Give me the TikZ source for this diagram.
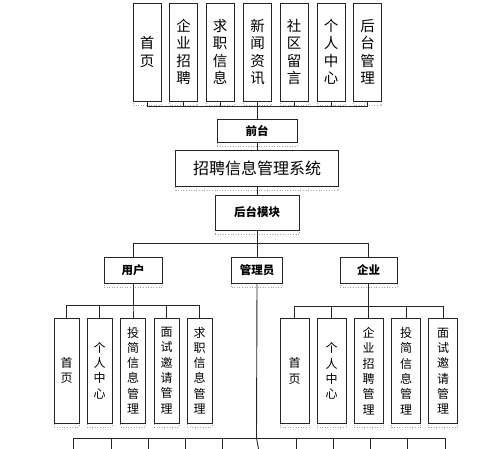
\documentclass[tikz,border=0pt]{standalone}
\usepackage{fontspec}
\newfontfamily\cjk{Noto Sans CJK SC}
\tikzset{
  colbox/.style={draw=black!85, line width=0.9pt, fill=white, align=center, inner sep=0pt,
    preaction={draw=black!35, dotted, line width=0.6pt, transform canvas={yshift=-4pt}}},
  topcol/.style={colbox, minimum width=28, minimum height=98, font=\cjk\fontsize{14.5}{17.5}\selectfont},
  subcol/.style={colbox, minimum height=105, font=\cjk\fontsize{12}{15.3}\selectfont},
  headbox/.style={colbox, minimum height=26, font=\cjk\bfseries\fontsize{11.5}{13}\selectfont},
  link/.style={draw=black!85, line width=0.9pt},
}

\begin{document}
\begin{tikzpicture}[x=1pt, y=-1pt]
			%%%%% START %%%%%
			\useasboundingbox (0,0) rectangle (500,449);
			
			% front end pages
			\foreach \x/\t/\n in {147/{首\\页}/t1, 183.5/{企\\业\\招\\聘}/t2, 220/{求\\职\\信\\息}/t3,
			    257.5/{新\\闻\\资\\讯}/t4, 294/{社\\区\\留\\言}/t5, 331/{个\\人\\中\\心}/t6, 367.5/{后\\台\\管\\理}/t7}
			  \node[topcol] (\n) at (\x, 52) {\t};
			
			\node[headbox, minimum width=80, minimum height=23] (qt) at (257, 130.5) {前台};
			\node[colbox, minimum width=163, minimum height=36, font=\cjk\fontsize{16}{18}\selectfont] (sys) at (257, 168) {招聘信息管理系统};
			\node[headbox, minimum width=84, minimum height=35] (ht) at (257, 212.5) {后台模块};
			
			\foreach \n in {t1,t2,t3,t4,t5,t6,t7}
			  \draw[link] (\n.south) -- ++(0,5) -| (qt.north);
			\draw[link] (qt.south) -- (sys.north);
			\draw[link] (sys.south) -- (ht.north);
			
			% back end roles
			\node[headbox, minimum width=58] (yh) at (133, 270) {用户};
			\node[headbox, minimum width=51] (gl) at (257, 270) {管理员};
			\node[headbox, minimum width=57] (qy) at (368.5, 270) {企业};
			
			\draw[link] (ht.south) -- ++(0,12.5) -| (yh.north);
			\draw[link] (ht.south) -- ++(0,12.5) -| (qy.north);
			\draw[link] (ht.south) -- (gl.north);
			
			% user pages
			\foreach \x/\t/\n in {66.5/{首\\页}/u1, 99.5/{个\\人\\中\\心}/u2, 133/{投\\简\\信\\息\\管\\理}/u3,
			    166.5/{面\\试\\邀\\请\\管\\理}/u4, 199.5/{求\\职\\信\\息\\管\\理}/u5}
			{
			  \node[subcol, minimum width=25] (\n) at (\x, 370.5) {\t};
			  \draw[link] (yh.south) -- ++(0,22) -| (\n.north);
			}
			
			% company pages
			\foreach \x/\t/\n in {294.5/{首\\页}/c1, 331.5/{个\\人\\中\\心}/c2, 368.5/{企\\业\\招\\聘\\管\\理}/c3,
			    406/{投\\简\\信\\息\\管\\理}/c4, 443/{面\\试\\邀\\请\\管\\理}/c5}
			{
			  \node[subcol, minimum width=29] (\n) at (\x, 371) {\t};
			  \draw[link] (qy.south) -- ++(0,23) -| (\n.north);
			}
			
			% admin branches, cut off at the lower edge
			\coordinate (bb) at (256.5, 438);
			\coordinate (bl) at (73, 438);
			\coordinate (br) at (445, 438);
			\draw[link] (bl) -- (br);
			\draw[link] (gl.south) -- (bb) -- ++(2,11);
			\foreach \x [count=\i] in {73,111,148,185,222,296,333,370,407,445}
			{
			  \coordinate (e\i) at (\x, 449);
			  \draw[link] (\x, 438) -- (e\i);
			}
			
			%%%%% END %%%%%
		\end{tikzpicture}
\end{document}
